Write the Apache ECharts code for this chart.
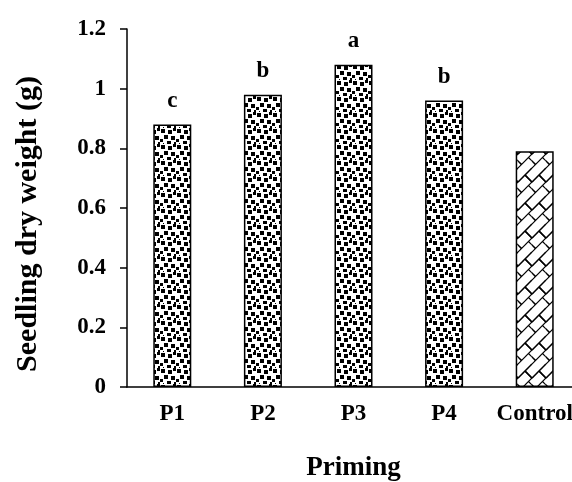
<!DOCTYPE html>
<html>
<head>
<meta charset="utf-8">
<script src="https://cdn.jsdelivr.net/npm/echarts@6/dist/echarts.min.js"></script>
<style>
html,body{margin:0;padding:0;background:#fff;}
#chart{width:572px;height:482px;}
</style>
</head>
<body>
<div id="chart"></div>
<script>
var categories = ['P1', 'P2', 'P3', 'P4', 'Control'];
var weights = [0.88, 0.98, 1.08, 0.96, 0.79];
var letters = ['c', 'b', 'a', 'b', ''];

// speckled square pattern for primed treatments
function dotPattern() {
  var c = document.createElement('canvas');
  c.width = 16; c.height = 16;
  var g = c.getContext('2d');
  g.fillStyle = '#fff'; g.fillRect(0, 0, 16, 16);
  g.fillStyle = '#000';
  var sq = [[1,1,4],[8,2,4],[13,0,3],[4,7,4],[11,8,4],[0,11,3],[7,13,4],[14,14,2],[3,15,1]];
  sq.forEach(function (s) { g.fillRect(s[0], s[1], s[2], s[2]); });
  return c;
}

// diagonal trellis for control
function hatchPattern() {
  var W = 14, H = 28;
  var c = document.createElement('canvas');
  c.width = W; c.height = H;
  var g = c.getContext('2d');
  g.fillStyle = '#fff'; g.fillRect(0, 0, W, H);
  g.strokeStyle = '#000'; g.lineWidth = 1.2;
  var segs = [
    [0, 14, 14, 0], [0, 28, 14, 14], [-14, 14, 0, 0], [14, 14, 28, 0], [0, 42, 14, 28], [-14, 28, 0, 14],
    [7, 7, 14, 14], [10.5, 17.5, 17.5, 24.5], [-3.5, 17.5, 3.5, 24.5], [7, 35, 14, 42], [7, -21, 14, -14], [-3.5, -10.5, 3.5, -3.5]
  ];
  segs.forEach(function (s) {
    [[0,0],[0,H],[0,-H]].forEach(function (o) {
      g.beginPath(); g.moveTo(s[0] + o[0], s[1] + o[1]); g.lineTo(s[2] + o[0], s[3] + o[1]); g.stroke();
    });
  });
  return c;
}

var dots = dotPattern();
var hatch = hatchPattern();
var font = 'Liberation Serif';

var myChart = echarts.init(document.getElementById('chart'));
myChart.setOption({
  animation: false,
  backgroundColor: '#fff',
  grid: { left: 127, top: 29, width: 453, height: 358, containLabel: false, outerBoundsMode: 'none' },
  xAxis: {
    type: 'category',
    data: categories,
    name: 'Priming',
    nameLocation: 'middle',
    nameGap: 68,
    nameTextStyle: { fontFamily: font, fontWeight: 'bold', fontSize: 27, color: '#000' },
    axisLine: { lineStyle: { color: '#000', width: 1.5 } },
    axisTick: { length: 7, lineStyle: { color: '#000', width: 1.5 } },
    axisLabel: { interval: 0, hideOverlap: false, margin: 16, fontFamily: font, fontWeight: 'bold', fontSize: 23, color: '#000' }
  },
  yAxis: {
    type: 'value',
    min: 0, max: 1.2, interval: 0.2,
    name: 'Seedling dry weight (g)',
    nameLocation: 'middle',
    nameGap: 84,
    nameTextStyle: { fontFamily: font, fontWeight: 'bold', fontSize: 30, color: '#000', padding: [0, 32, 0, 0] },
    axisLine: { show: true, lineStyle: { color: '#000', width: 1.5 } },
    axisTick: { show: true, length: 7, lineStyle: { color: '#000', width: 1.5 } },
    splitLine: { show: false },
    axisLabel: { margin: 21, fontFamily: font, fontWeight: 'bold', fontSize: 23, color: '#000' }
  },
  series: [{
    type: 'bar',
    barWidth: 38,
    data: weights.map(function (v, i) {
      return {
        value: v,
        itemStyle: { color: { image: i < 4 ? dots : hatch, repeat: 'repeat' } },
        label: { formatter: letters[i] }
      };
    }),
    itemStyle: { borderColor: '#000', borderWidth: 1.5 },
    label: { show: true, position: 'top', distance: 12, fontFamily: font, fontWeight: 'bold', fontSize: 23, color: '#000' }
  }]
});
</script>
</body>
</html>
